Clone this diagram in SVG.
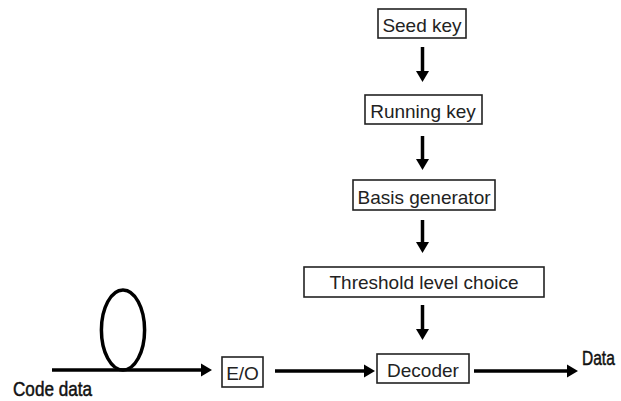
<svg xmlns="http://www.w3.org/2000/svg" width="621" height="401" viewBox="0 0 621 401">
<style>
.box{fill:#fff;stroke:#222;stroke-width:1.6}
.lbl{font-family:"Liberation Sans",Arial,sans-serif;font-size:19px;fill:#222;text-anchor:middle}
.cj{font-family:"Liberation Sans",Arial,sans-serif;fill:#111;stroke:#111;stroke-width:0.5}
.ln{stroke:#000;stroke-width:3.5;fill:none}
</style>
<defs>
<marker id="ah" markerUnits="userSpaceOnUse" markerWidth="12" markerHeight="14" refX="2" refY="7" orient="auto">
<path d="M0,0.5 L11,7 L0,13.5 z" fill="#000"/>
</marker>
</defs>
<rect width="621" height="401" fill="#fff"/>
<g id="connectors">
<line class="ln" x1="422.5" y1="47" x2="422.5" y2="73" marker-end="url(#ah)"/>
<line class="ln" x1="422.5" y1="136" x2="422.5" y2="161" marker-end="url(#ah)"/>
<line class="ln" x1="422.5" y1="220" x2="422.5" y2="244" marker-end="url(#ah)"/>
<line class="ln" x1="422.5" y1="305" x2="422.5" y2="331" marker-end="url(#ah)"/>
<line class="ln" x1="52" y1="370" x2="203" y2="370" marker-end="url(#ah)"/>
<ellipse class="ln" cx="123" cy="330" rx="21.6" ry="40"/>
<line class="ln" x1="275" y1="371" x2="366" y2="371" marker-end="url(#ah)"/>
<line class="ln" x1="474" y1="371" x2="569" y2="371" marker-end="url(#ah)"/>
</g>
<g id="seed-key">
<rect class="box" x="378" y="9" width="88" height="29"/>
<text class="lbl" x="422" y="32">Seed key</text>
</g>
<g id="running-key">
<rect class="box" x="365" y="95" width="117" height="29"/>
<text class="lbl" x="423" y="118">Running key</text>
</g>
<g id="basis-generator">
<rect class="box" x="353" y="180" width="142" height="30"/>
<text class="lbl" x="424" y="204">Basis generator</text>
</g>
<g id="threshold-level-choice">
<rect class="box" x="304" y="267" width="240" height="30"/>
<text class="lbl" x="424" y="288.5">Threshold level choice</text>
</g>
<g id="decoder">
<rect class="box" x="377" y="354" width="92" height="29"/>
<text class="lbl" x="423" y="377">Decoder</text>
</g>
<g id="eo">
<rect class="box" x="222" y="357" width="41" height="30"/>
<text class="lbl" x="242.5" y="380">E/O</text>
</g>
<g id="code-data">
<text class="cj" transform="translate(13,396) scale(0.856,1)" x="0" y="0" font-size="20">Code data</text>
</g>
<g id="data">
<text class="cj" transform="translate(582,365) scale(0.74,1)" x="0" y="0" font-size="21">Data</text>
</g>
</svg>
